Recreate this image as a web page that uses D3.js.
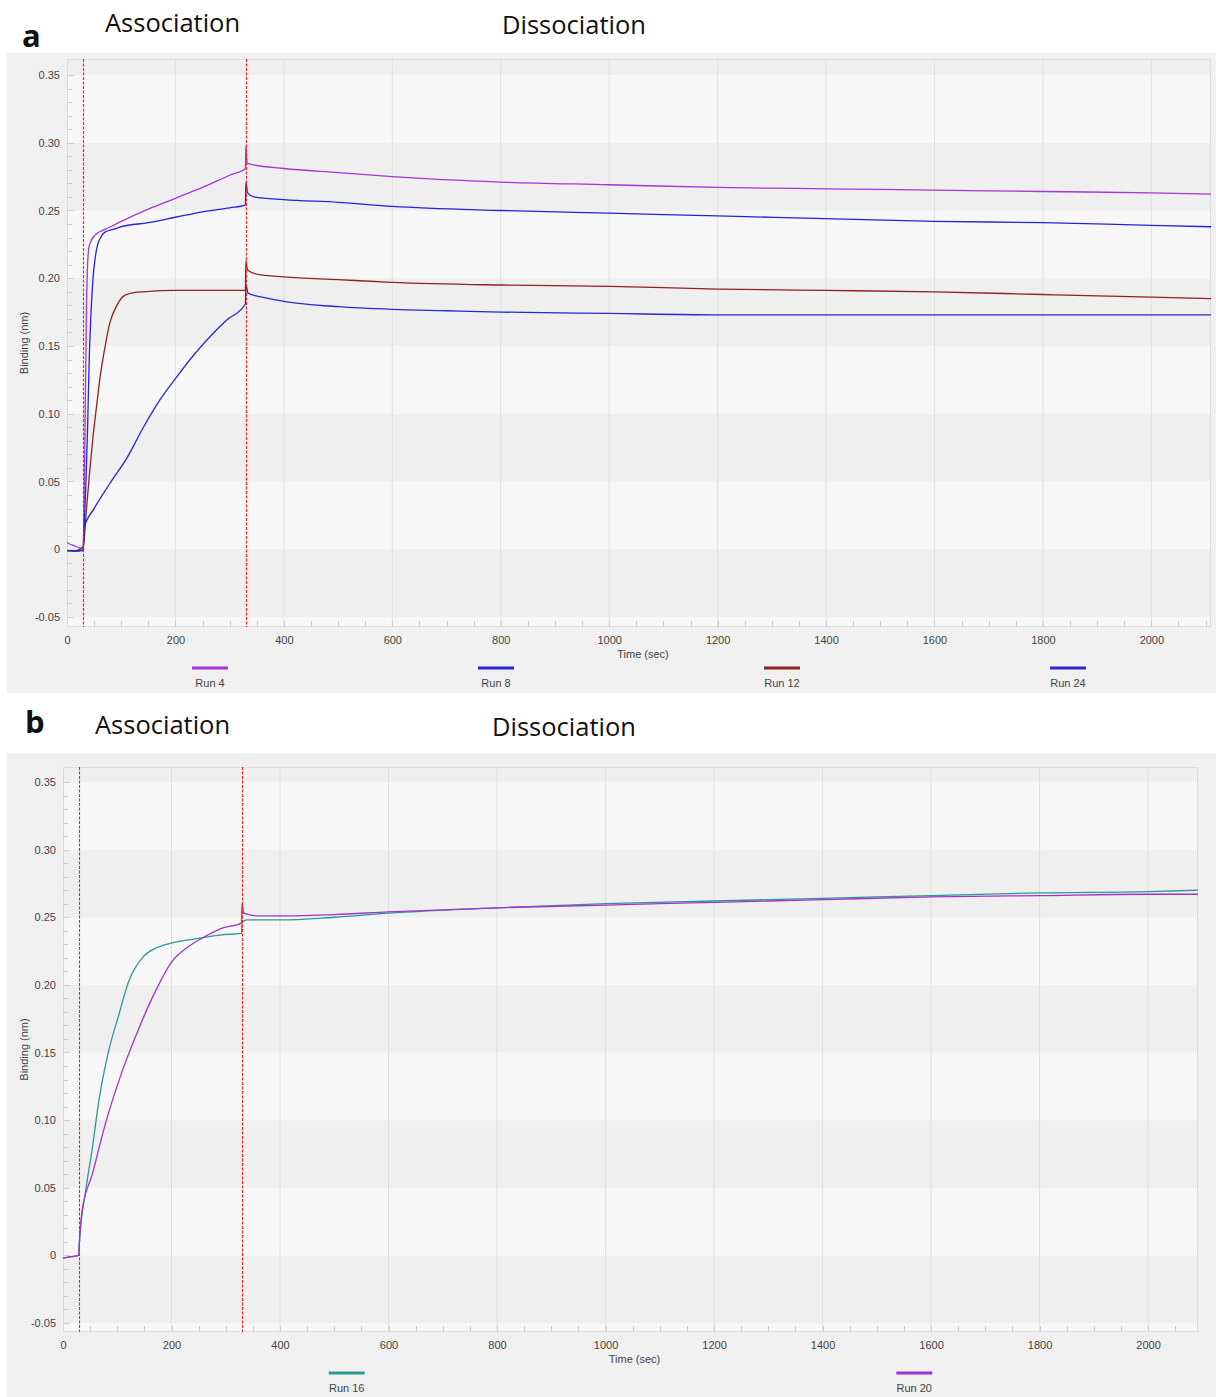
<!DOCTYPE html>
<html lang="en">
<head>
<meta charset="utf-8">
<title>Binding kinetics</title>
<script src="https://d3js.org/d3.v7.min.js"></script>
<style>
body { margin: 0; background: #fff; }
svg text { font-family: "Liberation Sans", Arial, sans-serif; }
.hdr { font-family: "Open Sans", "Noto Sans", sans-serif; fill: #111; }
</style>
</head>
<body>
<script>
// ---- data (time in sec, binding in nm) ----
var yTicks = [-0.05, 0, 0.05, 0.10, 0.15, 0.20, 0.25, 0.30, 0.35];
var yTickLabels = ["-0.05", "0", "0.05", "0.10", "0.15", "0.20", "0.25", "0.30", "0.35"];
var xTicks = [0, 200, 400, 600, 800, 1000, 1200, 1400, 1600, 1800, 2000];
var stepMarks = [30, 330];   // association start / dissociation start

var run4 = [[0,0.005],[10,0.003],[20,0.0015],[30,0.0],[31,0.02],[33,0.08],[36,0.18],[38,0.21],[40,0.222],[45,0.228],
  [55,0.233],[70,0.236],[100,0.242],[150,0.251],[200,0.259],[250,0.267],[300,0.276],[329,0.281],[330,0.298],[332,0.285],
  [340,0.284],[400,0.281],[500,0.278],[600,0.275],[800,0.271],[1000,0.269],[1200,0.267],[1400,0.266],[1600,0.265],
  [1800,0.264],[2000,0.263],[2110,0.262]];
var run8 = [[0,-0.001],[15,-0.001],[30,-0.0005],[31,0.01],[35,0.05],[38,0.09],[41,0.14],[45,0.18],[48,0.2],[52,0.215],
  [56,0.224],[62,0.23],[70,0.234],[85,0.236],[100,0.238],[150,0.241],[200,0.245],[250,0.249],[300,0.252],[329,0.254],
  [330,0.271],[333,0.263],[345,0.260],[400,0.258],[500,0.256],[600,0.253],[800,0.250],[1000,0.248],[1200,0.246],
  [1400,0.244],[1600,0.242],[1800,0.241],[2000,0.239],[2110,0.238]];
var run12 = [[0,-0.001],[15,-0.001],[30,0.002],[36,0.03],[42,0.058],[48,0.083],[55,0.107],[61,0.127],[70,0.149],
  [79,0.167],[92,0.18],[107,0.1875],[125,0.1895],[141,0.19],[200,0.191],[260,0.191],[329,0.191],[330,0.213],[333,0.206],
  [350,0.203],[400,0.201],[500,0.199],[600,0.197],[800,0.195],[1000,0.194],[1200,0.192],[1400,0.191],[1600,0.19],
  [1800,0.188],[2000,0.186],[2110,0.185]];
var run24 = [[0,-0.001],[15,-0.0015],[30,-0.001],[31,0.015],[50,0.03],[79,0.0485],[110,0.067],[141,0.09],[171,0.11],
  [202,0.127],[233,0.143],[264,0.157],[294,0.169],[329,0.181],[330,0.195],[334,0.189],[360,0.186],[400,0.183],
  [500,0.179],[600,0.177],[700,0.176],[800,0.175],[1000,0.174],[1200,0.173],[1400,0.173],[1600,0.173],[1800,0.173],
  [2000,0.173],[2110,0.173]];

var run16 = [[0,-0.002],[15,-0.001],[29,0.0],[30,0.008],[41.5,0.047],[54,0.079],[66,0.114],[84,0.151],[103,0.178],
  [121,0.2025],[146,0.22],[170,0.227],[201,0.231],[244,0.234],[293,0.237],[329,0.238],[330,0.2465],[340,0.248],
  [400,0.248],[500,0.25],[600,0.253],[800,0.257],[1000,0.26],[1200,0.262],[1400,0.264],[1600,0.266],[1800,0.268],
  [2000,0.269],[2092,0.27]];
var run20 = [[0,-0.002],[15,-0.001],[29,0.0],[30,0.008],[35,0.0325],[54,0.06],[78,0.097],[109,0.136],[140,0.168],
  [170,0.195],[201,0.2174],[232,0.2285],[263,0.236],[293,0.242],[329,0.2457],[330,0.26],[333,0.253],[360,0.251],
  [400,0.251],[500,0.252],[600,0.254],[800,0.257],[1000,0.259],[1200,0.261],[1400,0.263],[1600,0.265],[1800,0.266],
  [2000,0.267],[2092,0.267]];

var panels = [
  {
    letter: "a", letterX: 22, letterY: 47,
    assocX: 105, assocY: 32, dissocX: 502, dissocY: 34,
    box: { x: 7, y: 53, w: 1209, h: 640 },
    plot: { left: 67, top: 59, right: 1211, bottom: 627 },
    xMax: 2110, yMin: -0.0574, yMax: 0.3618,
    runs: [
      { name: "Run 4", data: run4, color: "#a435d6" },
      { name: "Run 8", data: run8, color: "#2323dc" },
      { name: "Run 12", data: run12, color: "#8e2222" },
      { name: "Run 24", data: run24, color: "#2828d4" }
    ]
  },
  {
    letter: "b", letterX: 25, letterY: 733,
    assocX: 95, assocY: 734, dissocX: 492, dissocY: 736,
    box: { x: 7, y: 753, w: 1209, h: 644 },
    plot: { left: 63, top: 767, right: 1198, bottom: 1332 },
    xMax: 2092, yMin: -0.0567, yMax: 0.3611,
    runs: [
      { name: "Run 16", data: run16, color: "#2a9a92" },
      { name: "Run 20", data: run20, color: "#a233cf" }
    ]
  }
];

var W = 1216, H = 1397;
var svg = d3.select("body").append("svg")
  .attr("width", W)
  .attr("height", H);

panels.forEach(function(p) {
  var g = svg.append("g");
  var pl = p.plot;

  // headers
  g.append("text").attr("x", p.letterX).attr("y", p.letterY)
    .attr("class", "hdr").style("font-size", "31px").style("font-weight", "bold").text(p.letter);
  g.append("text").attr("x", p.assocX).attr("y", p.assocY)
    .attr("class", "hdr").style("font-size", "25.5px").text("Association");
  g.append("text").attr("x", p.dissocX).attr("y", p.dissocY)
    .attr("class", "hdr").style("font-size", "25.5px").text("Dissociation");

  // grey panel
  g.append("rect").attr("x", p.box.x).attr("y", p.box.y)
    .attr("width", p.box.w).attr("height", p.box.h).attr("fill", "#f0f0f0");

  var x = d3.scaleLinear().domain([0, p.xMax]).range([pl.left, pl.right]);
  var y = d3.scaleLinear().domain([p.yMin, p.yMax]).range([pl.bottom, pl.top]);

  // plot background + alternating bands
  g.append("rect").attr("x", pl.left).attr("y", pl.top)
    .attr("width", pl.right - pl.left).attr("height", pl.bottom - pl.top).attr("fill", "#f7f7f7");
  var bands = d3.range(-2, 8);
  g.selectAll(".band").data(bands).enter().append("rect")
    .attr("x", pl.left)
    .attr("y", function(k) { return Math.max(pl.top, y(Math.min(p.yMax, (k + 1) * 0.05))); })
    .attr("width", pl.right - pl.left)
    .attr("height", function(k) {
      var lo = Math.max(p.yMin, k * 0.05), hi = Math.min(p.yMax, (k + 1) * 0.05);
      return hi > lo ? y(lo) - y(hi) : 0;
    })
    .attr("fill", function(k) { return Math.abs(k % 2) === 1 ? "#efefef" : "#f7f7f7"; });

  // vertical grid
  g.selectAll(".vg").data(xTicks.filter(function(t) { return t > 0; })).enter().append("line")
    .attr("x1", function(t) { return x(t); }).attr("x2", function(t) { return x(t); })
    .attr("y1", pl.top).attr("y2", pl.bottom)
    .attr("stroke", "#e2e2e2").attr("stroke-width", 1);

  // plot border
  g.append("rect").attr("x", pl.left + 0.5).attr("y", pl.top + 0.5)
    .attr("width", pl.right - pl.left - 1).attr("height", pl.bottom - pl.top - 1)
    .attr("fill", "none").attr("stroke", "#dddddd");

  // minor ticks inside (y every 0.01, x every 50)
  var yMinor = d3.range(-5, 36).map(function(i) { return i / 100; });
  g.selectAll(".ym").data(yMinor).enter().append("line")
    .attr("x1", pl.left).attr("x2", function(v, i) { return pl.left + ((i % 5 === 0) ? 7 : 5); })
    .attr("y1", function(v) { return Math.round(y(v)) + 0.5; })
    .attr("y2", function(v) { return Math.round(y(v)) + 0.5; })
    .attr("stroke", "#cfcfcf");
  var xMinor = d3.range(50, p.xMax, 50);
  g.selectAll(".xm").data(xMinor).enter().append("line")
    .attr("x1", function(t) { return Math.round(x(t)) + 0.5; })
    .attr("x2", function(t) { return Math.round(x(t)) + 0.5; })
    .attr("y1", pl.bottom).attr("y2", pl.bottom - 6)
    .attr("stroke", "#cfcfcf");

  // axes (labels only)
  var yAxis = d3.axisLeft(y).tickValues(yTicks).tickSize(0).tickPadding(7)
    .tickFormat(function(d, i) { return yTickLabels[i]; });
  var ya = g.append("g").attr("transform", "translate(" + pl.left + ",0)").call(yAxis);
  ya.select(".domain").remove();
  ya.selectAll("text").style("font-size", "11px").attr("fill", "#444");

  var xAxis = d3.axisBottom(x).tickValues(xTicks).tickSize(0).tickPadding(9).tickFormat(d3.format("d"));
  var xa = g.append("g").attr("transform", "translate(0," + pl.bottom + ")").call(xAxis);
  xa.select(".domain").remove();
  xa.selectAll("text").style("font-size", "11px").attr("fill", "#444");

  g.append("text").attr("x", (pl.left + pl.right) / 2 + 4).attr("y", pl.bottom + 31)
    .attr("text-anchor", "middle").style("font-size", "11px").attr("fill", "#444").text("Time (sec)");
  g.append("text")
    .attr("transform", "translate(" + (p.box.x + 21) + "," + ((pl.top + pl.bottom) / 2) + ") rotate(-90)")
    .attr("text-anchor", "middle").style("font-size", "11px").attr("fill", "#444").text("Binding (nm)");

  // curves
  var line = d3.line()
    .x(function(d) { return x(d[0]); })
    .y(function(d) { return y(d[1]); })
    .curve(d3.curveMonotoneX);
  g.selectAll(".run").data(p.runs).enter().append("path")
    .attr("d", function(r) { return line(r.data); })
    .attr("fill", "none")
    .attr("stroke", function(r) { return r.color; })
    .attr("stroke-width", 1.3);

  // step markers (association / dissociation start)
  g.selectAll(".step").data(stepMarks).enter().append("path")
    .attr("d", function(t) {
      var xx = Math.round(x(t)) + 0.5;
      return "M" + xx + "," + pl.top + "V" + pl.bottom;
    })
    .attr("fill", "none")
    .attr("stroke", "#ff1a1a").attr("stroke-width", 1.1).attr("stroke-dasharray", "3,1.5");

  // legend
  var n = p.runs.length;
  var lg = g.selectAll(".lg").data(p.runs).enter().append("g")
    .attr("transform", function(r, i) {
      return "translate(" + (pl.left + (pl.right - pl.left) * (i + 0.5) / n) + "," + (pl.bottom + 41) + ")";
    });
  lg.append("line").attr("x1", -18).attr("x2", 18).attr("y1", 0).attr("y2", 0)
    .attr("stroke", function(r) { return r.color; }).attr("stroke-width", 3);
  lg.append("text").attr("x", 0).attr("y", 19).attr("text-anchor", "middle")
    .style("font-size", "11px").attr("fill", "#444").text(function(r) { return r.name; });
});
</script>
</body>
</html>
